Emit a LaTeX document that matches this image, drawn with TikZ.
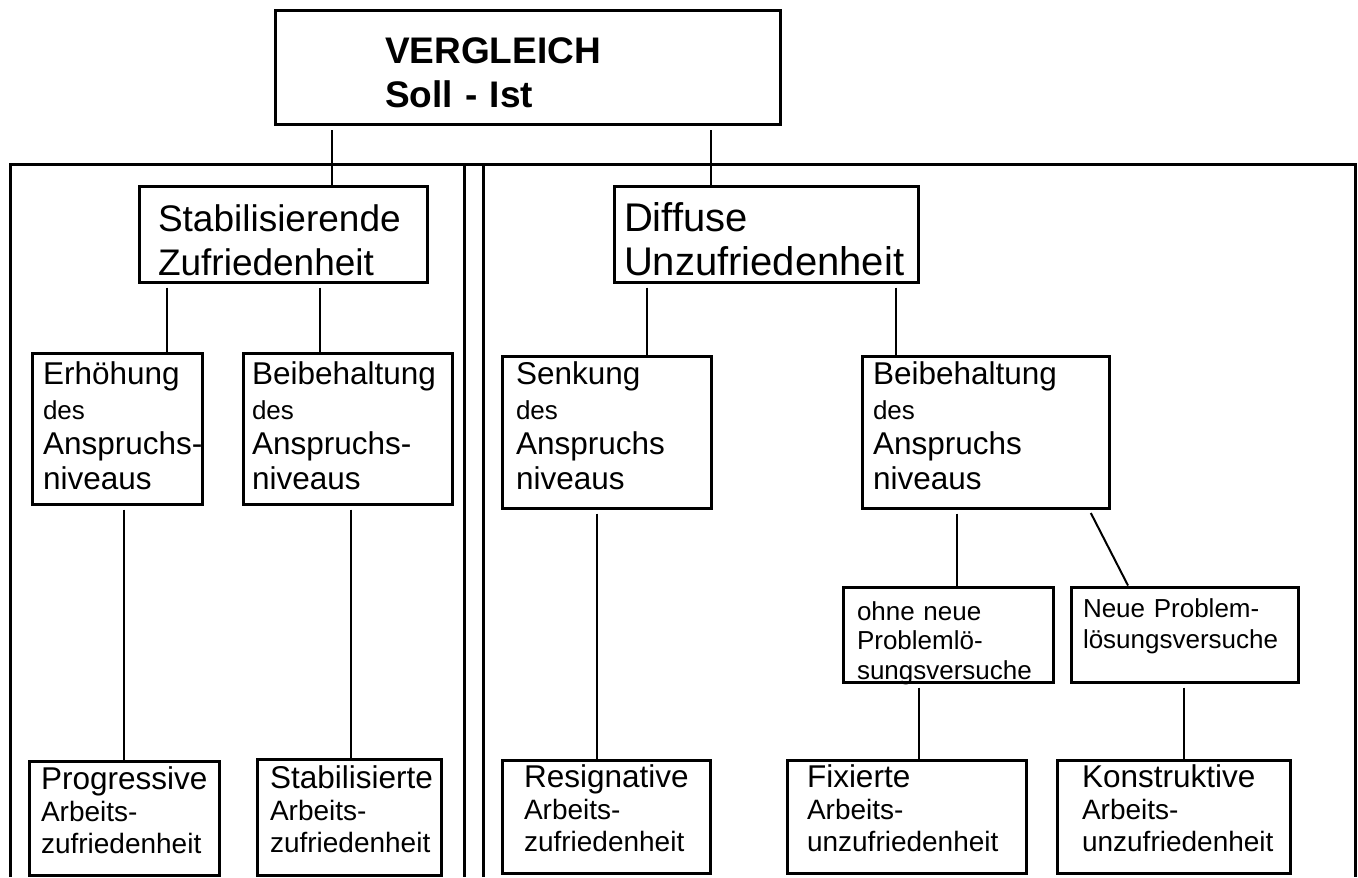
\documentclass[tikz,border=0pt]{standalone}
\usepackage{fontspec}
\setmainfont{Liberation Sans}

\hyphenpenalty=10000
\exhyphenpenalty=10000

\newcommand\gross{\fontsize{18.5pt}{22pt}\selectfont}
\newcommand\mittel{\fontsize{15.75pt}{17.5pt}\selectfont}
\newcommand\klein{\fontsize{13pt}{14.75pt}\selectfont}
\newcommand\unten{\fontsize{14pt}{16pt}\selectfont}

\tikzset{
  kasten/.style={draw, line width=1.5pt, rectangle, inner sep=0pt, align=left},
  verbinder/.style={line width=1pt, shorten <=2pt},
  rahmen/.style={line width=1.5pt},
  endkasten/.style={kasten, font=\fontsize{15.75pt}{16pt}\selectfont, text height=3.5pt},
}

\begin{document}
\begin{tikzpicture}[x=0.5pt, y=-0.5pt]
  \useasboundingbox (0,0) rectangle (1358,877);

  %% Rahmen
  \draw[rahmen] (10,877) -- (10,165) -- (1355,165) -- (1355,877);
  \draw[rahmen] (464,165) -- (464,877);
  \draw[rahmen] (483,165) -- (483,877);

  %% Vergleich
  \node (vergleich) [kasten, font=\gross\bfseries, text width=142.5pt, text height=17.25pt,
    minimum width=252.5pt, minimum height=57pt] at (527.5,68) {VERGLEICH\\Soll - Ist};

  %% Zweite Ebene
  \node (stabil) [kasten, font=\gross, text width=125pt, text height=19.5pt,
    minimum width=144pt, minimum height=47.5pt] at (283,234.5) {Stabilisierende\\Zufriedenheit};
  \node (diffuse) [kasten, font=\fontsize{20pt}{22pt}\selectfont, text width=142pt, text height=19.6pt,
    minimum width=152pt, minimum height=47.5pt] at (766,234.5) {Diffuse\\Unzufriedenheit};

  %% Anspruchsniveau
  \node (erhoehung) [kasten, font=\mittel, text width=74pt, text height=9pt,
    minimum width=85pt, minimum height=75.5pt] at (117,428.5) {Erhöhung\\{\klein des}\\Anspruchs-\\niveaus};
  \node (beibehaltL) [kasten, font=\mittel, text width=95.5pt, text height=9pt,
    minimum width=104.5pt, minimum height=75.5pt] at (347.5,428.5) {Beibehaltung\\{\klein des}\\Anspruchs-\\niveaus};
  \node (senkung) [kasten, font=\mittel, text width=90.5pt, text height=5.5pt,
    minimum width=104.5pt, minimum height=76pt] at (606.5,432) {Senkung\\{\klein des}\\Anspruchs\\niveaus};
  \node (beibehaltR) [kasten, font=\mittel, text width=112.5pt, text height=5.5pt,
    minimum width=123.5pt, minimum height=76pt] at (985.5,432) {Beibehaltung\\{\klein des}\\Anspruchs\\niveaus};

  %% Problemloesung
  \node (ohne) [kasten, font=\klein, text width=91pt, text height=16pt, text depth=30.5pt,
    minimum width=105pt, minimum height=47.5pt] at (948,634.5) {ohne neue\\Problemlö-\\sungsversuche};
  \node (neue) [kasten, font=\fontsize{13pt}{15.5pt}\selectfont, text width=101.5pt, text height=1pt,
    minimum width=113.5pt, minimum height=47.5pt] at (1184.5,634.5) {Neue Problem-\\lösungsversuche};

  %% Arbeitszufriedenheit
  \node (progressive) [endkasten, text width=83pt,
    minimum width=95pt, minimum height=57pt] at (124,818) {Progressive\\{\unten Arbeits-}\\{\unten zufriedenheit}};
  \node (stabilisierte) [endkasten, text width=79pt,
    minimum width=92pt, minimum height=58pt] at (349,817) {Stabilisierte\\{\unten Arbeits-}\\{\unten zufriedenheit}};
  \node (resignative) [endkasten, text width=82pt,
    minimum width=104pt, minimum height=56.5pt] at (606,816.5) {Resignative\\{\unten Arbeits-}\\{\unten zufriedenheit}};
  \node (fixierte) [endkasten, text width=99.5pt,
    minimum width=119.5pt, minimum height=56.5pt] at (906.5,816.5) {Fixierte\\{\unten Arbeits-}\\{\unten unzufriedenheit}};
  \node (konstruktive) [endkasten, text width=91.5pt,
    minimum width=116.5pt, minimum height=56.5pt] at (1173.5,816.5) {Konstruktive\\{\unten Arbeits-}\\{\unten unzufriedenheit}};

  %% Verbindungen
  \draw[verbinder] (vergleich.south -| 332,0) -- (stabil.north -| 332,0);
  \draw[verbinder] (vergleich.south -| 711,0) -- (diffuse.north -| 711,0);
  \draw[verbinder] (stabil.south -| 167,0) -- (erhoehung.north -| 167,0);
  \draw[verbinder] (stabil.south -| 320,0) -- (beibehaltL.north -| 320,0);
  \draw[verbinder] (diffuse.south -| 647,0) -- (senkung.north -| 647,0);
  \draw[verbinder] (diffuse.south -| 896,0) -- (beibehaltR.north -| 896,0);
  \draw[verbinder] (erhoehung.south -| 124,0) -- (progressive.north -| 124,0);
  \draw[verbinder] (beibehaltL.south -| 351,0) -- (stabilisierte.north -| 351,0);
  \draw[verbinder] (senkung.south -| 597,0) -- (resignative.north -| 597,0);
  \draw[verbinder] (beibehaltR.south -| 957,0) -- (ohne.north -| 957,0);
  \draw[verbinder] (beibehaltR.south -| 1089,0) -- (neue.north -| 1128,0);
  \draw[verbinder] (ohne.south -| 919,0) -- (fixierte.north -| 919,0);
  \draw[verbinder] (neue.south -| 1184,0) -- (konstruktive.north -| 1184,0);
\end{tikzpicture}
\end{document}
